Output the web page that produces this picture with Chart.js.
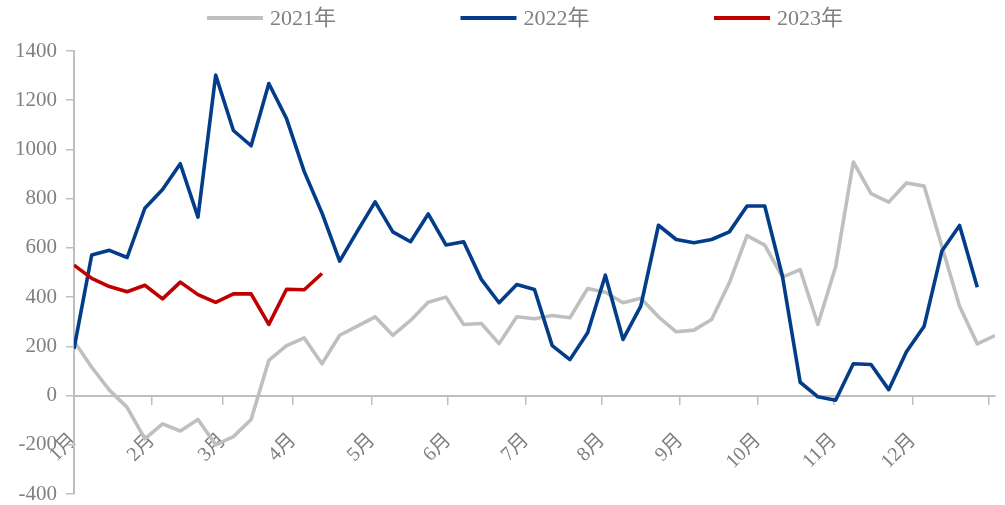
<!DOCTYPE html>
<html>
<head>
<meta charset="utf-8">
<script src="https://cdn.jsdelivr.net/npm/chart.js@4.4.1/dist/chart.umd.min.js"></script>
<style>
  html, body { margin: 0; padding: 0; background: #fff; }
  #wrap { width: 1005px; height: 505px; }
</style>
</head>
<body>
<div id="wrap"><canvas id="chart"></canvas></div>
<script>
// Weekly values, one point per week of the year
const values2021 = [221, 115, 22, -48, -176, -115, -144, -97, -200, -167, -97, 143, 203, 234, 129,
  245, 282, 320, 245, 305, 379, 400, 289, 293, 211, 320, 312, 325, 316, 435,
  420, 377, 395, 320, 259, 266, 309, 458, 650, 611, 481, 512, 289, 522, 949,
  820, 786, 864, 851, 607, 363, 210, 244];
const values2022 = [190, 571, 590, 561, 761, 837, 942, 725, 1302, 1077, 1015, 1268, 1125, 910, 742,
  546, 668, 787, 665, 625, 738, 612, 625, 472, 377, 451, 431, 203, 146, 255,
  489, 228, 363, 692, 634, 621, 634, 665, 770, 770, 485, 54, -5, -19, 129,
  126, 24, 178, 282, 587, 691, 440];
const values2023 = [530, 476, 443, 422, 448, 393, 461, 410, 379, 413, 413, 289, 432, 430, 496];

const seriesNames = ['2021年', '2022年', '2023年'];
const seriesColors = ['#bfbfbf', '#033d89', '#c00000'];

// month boundaries, in weeks from the start of the year
const monthStarts = [0, 4.40, 8.41, 12.37, 16.83, 21.12, 25.52, 29.81, 34.22, 38.62, 42.91, 47.37, 51.66];
const monthLabels = ['1月', '2月', '3月', '4月', '5月', '6月', '7月', '8月', '9月', '10月', '11月', '12月', ''];

const yMin = -400, yMax = 1400, yStep = 200;

const FONT = '"Liberation Serif", "Times New Roman", "Noto Sans CJK SC", serif';
const TEXT = '#7f7f7f';
const AXIS = '#bfbfbf';

const toPoints = arr => arr.map((v, i) => ({ x: i, y: v }));

// simple line legend across the top
const lineLegend = {
  id: 'lineLegend',
  afterDraw(chart) {
    const ctx = chart.ctx;
    ctx.save();
    ctx.font = '22px ' + FONT;
    ctx.textBaseline = 'middle';
    ctx.fillStyle = TEXT;
    ctx.lineWidth = 4;
    let x = 207;
    chart.data.datasets.forEach(ds => {
      ctx.strokeStyle = ds.borderColor;
      ctx.beginPath();
      ctx.moveTo(x, 18);
      ctx.lineTo(x + 56, 18);
      ctx.stroke();
      ctx.fillText(ds.label, x + 63, 19);
      x += 253.5;
    });
    ctx.restore();
  }
};

// axis label overhang is covered by the layout padding
const noPadding = scale => {
  scale.paddingLeft = 0;
  scale.paddingRight = 0;
  scale.paddingTop = 0;
  scale.paddingBottom = 0;
};

new Chart(document.getElementById('chart'), {
  type: 'line',
  data: {
    datasets: [
      { label: seriesNames[0], data: toPoints(values2021), borderColor: seriesColors[0], order: 3 },
      { label: seriesNames[1], data: toPoints(values2022), borderColor: seriesColors[1], order: 2 },
      { label: seriesNames[2], data: toPoints(values2023), borderColor: seriesColors[2], order: 1 }
    ]
  },
  options: {
    responsive: true,
    maintainAspectRatio: false,
    devicePixelRatio: 1,
    animation: false,
    layout: { padding: { top: 51, right: 10, bottom: 11, left: 0 } },
    elements: {
      line: { borderWidth: 3.6, tension: 0, borderJoinStyle: 'round', borderCapStyle: 'butt' },
      point: { radius: 0, hoverRadius: 0 }
    },
    plugins: {
      legend: { display: false },
      tooltip: { enabled: false }
    },
    scales: {
      x: {
        type: 'linear',
        position: { y: 0 },
        min: 0,
        max: values2021.length - 1,
        afterBuildTicks: scale => { scale.ticks = monthStarts.map(v => ({ value: v })); },
        afterFit: noPadding,
        grid: { drawOnChartArea: false, drawTicks: true, tickLength: 8, color: AXIS, lineWidth: 1.5 },
        border: { display: true, color: AXIS, width: 2 },
        ticks: {
          autoSkip: false,
          minRotation: 45,
          maxRotation: 45,
          padding: 25,
          color: TEXT,
          font: { family: FONT, size: 20 },
          callback: (v, i) => monthLabels[i]
        }
      },
      y: {
        min: yMin,
        max: yMax,
        afterFit: scale => { scale.width = 74; noPadding(scale); },
        grid: { drawOnChartArea: false, drawTicks: true, tickLength: 8, color: AXIS, lineWidth: 1.5 },
        border: { display: true, color: AXIS, width: 2 },
        ticks: {
          stepSize: yStep,
          padding: 9,
          color: TEXT,
          font: { family: FONT, size: 21 },
          callback: v => String(v)
        }
      }
    }
  },
  plugins: [lineLegend]
});
</script>
</body>
</html>
